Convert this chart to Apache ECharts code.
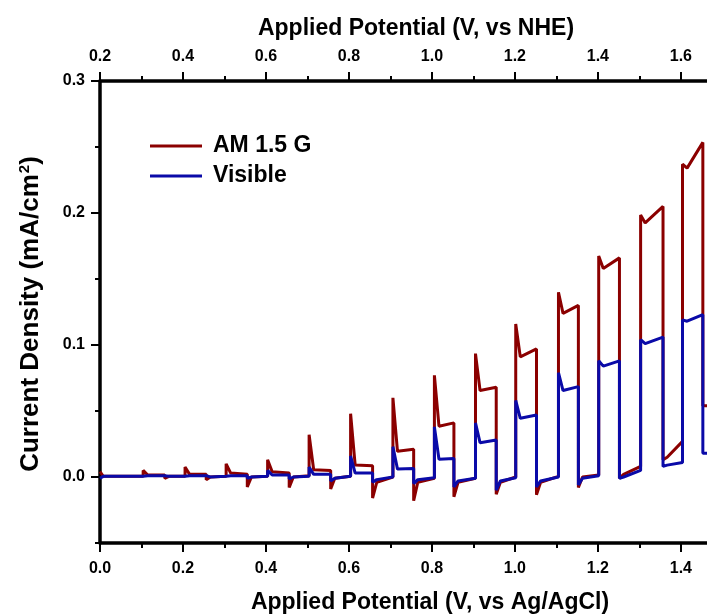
<!DOCTYPE html>
<html>
<head>
<meta charset="utf-8">
<script src="https://cdn.jsdelivr.net/npm/echarts@6/dist/echarts.min.js"></script>
<style>
  html, body { margin: 0; padding: 0; background: #fff; }
  #chart { width: 707px; height: 614px; }
</style>
</head>
<body>
<div id="chart"></div>
<script>
// Chopped-light linear sweep: light switched on at each onset potential
// and off again at the matching off potential (V vs Ag/AgCl).
const onsetV = [0.104, 0.205, 0.304, 0.404, 0.504, 0.604, 0.706, 0.806, 0.905, 1.002, 1.105, 1.202, 1.303, 1.404];
const offV   = [0.156, 0.256, 0.355, 0.456, 0.556, 0.657, 0.756, 0.853, 0.955, 1.052, 1.153, 1.252, 1.357, 1.453];
const sweepEnd = 1.463;

// AM 1.5 G illumination (mA/cm2)
const amStart      = 0.004;
const amDarkBefore = [0.0005, 0.0005, 0.0005, 0.0005, 0.001, 0.0005, 0.0, -0.001, -0.001, 0.0, 0.0005, 0.0015, 0.008, 0.027];
const amSpike      = [0.005, 0.0075, 0.010, 0.013, 0.032, 0.048, 0.060, 0.077, 0.0935, 0.116, 0.140, 0.1675, 0.1985, 0.237];
const amDip        = [0.0015, 0.002, 0.003, 0.004, 0.0055, 0.009, 0.0195, 0.0385, 0.0655, 0.091, 0.124, 0.158, 0.1925, 0.234];
const amEnd        = [0.0015, 0.002, 0.002, 0.003, 0.005, 0.0085, 0.021, 0.041, 0.068, 0.097, 0.130, 0.166, 0.205, 0.2535];
const amOffDip     = [-0.001, -0.002, -0.0075, -0.008, -0.009, -0.016, -0.018, -0.015, -0.013, -0.0135, -0.008, -0.001, 0.013, 0.054];
const amDarkAfter  = [0.0005, 0.0, 0.0, 0.0, -0.001, -0.004, -0.004, -0.004, -0.004, -0.004, 0.0, 0.002, 0.015];

// Visible-light illumination (mA/cm2)
const visStart      = -0.001;
const visDarkBefore = [0.0005, 0.0005, 0.0005, 0.0005, 0.0005, 0.0005, 0.0, -0.0005, -0.001, -0.0005, 0.0, 0.001, 0.005, 0.011];
const visSpike      = [0.0015, 0.002, 0.002, 0.005, 0.0075, 0.016, 0.023, 0.038, 0.041, 0.058, 0.079, 0.088, 0.104, 0.119];
const visDip        = [0.001, 0.001, 0.001, 0.0015, 0.002, 0.003, 0.006, 0.0135, 0.026, 0.0445, 0.0655, 0.084, 0.101, 0.118];
const visEnd        = [0.001, 0.001, 0.001, 0.0015, 0.002, 0.003, 0.0065, 0.014, 0.028, 0.047, 0.0685, 0.088, 0.106, 0.123];
const visOffDip     = [0.0, -0.0005, -0.001, -0.0015, -0.003, -0.004, -0.005, -0.0075, -0.010, -0.0075, -0.006, -0.001, 0.008, 0.018];
const visDarkAfter  = [0.0005, 0.0, 0.0, 0.0, -0.001, -0.002, -0.002, -0.003, -0.003, -0.003, -0.001, 0.0, 0.009];

// Axis tick values
const xMajor   = [0, 0.2, 0.4, 0.6, 0.8, 1.0, 1.2, 1.4];
const xMinor   = [0.1, 0.3, 0.5, 0.7, 0.9, 1.1, 1.3];
const nheMajor = [0.2, 0.4, 0.6, 0.8, 1.0, 1.2, 1.4, 1.6];
const nheMinor = [0.3, 0.5, 0.7, 0.9, 1.1, 1.3, 1.5];
const yMajor   = [0, 0.1, 0.2, 0.3];
const yMinor   = [-0.05, 0.05, 0.15, 0.25];
const nheOffset = 0.2;

// Turn the per-cycle readings into one polyline: dark level, on-spike,
// decay to the photocurrent plateau, plateau end, off transient, recovery.
function buildTrace(start, darkBefore, spike, dip, end, offDip, darkAfter) {
  const pts = [[0, start], [0.008, darkBefore[0]]];
  const n = onsetV.length;
  for (let i = 0; i < n; i++) {
    pts.push([onsetV[i], darkBefore[i]]);
    pts.push([onsetV[i], spike[i]]);
    pts.push([onsetV[i] + 0.011, dip[i]]);
    pts.push([offV[i], end[i]]);
    pts.push([offV[i], offDip[i]]);
    if (i < n - 1) {
      pts.push([offV[i] + 0.01, darkAfter[i]]);
    } else {
      pts.push([sweepEnd, offDip[i]]);
    }
  }
  return pts;
}

const amData  = buildTrace(amStart, amDarkBefore, amSpike, amDip, amEnd, amOffDip, amDarkAfter);
const visData = buildTrace(visStart, visDarkBefore, visSpike, visDip, visEnd, visOffDip, visDarkAfter);

const FONT = "'Liberation Sans', Arial, Helvetica, sans-serif";
const black = '#000';

function labelStyle(values, margin) {
  return {
    show: true, customValues: values, color: black, fontFamily: FONT,
    fontSize: 16, fontWeight: 'bold', margin: margin,
    formatter: v => Number(v).toFixed(1)
  };
}
function tickStyle(values, len) {
  return { show: true, customValues: values, inside: false, length: len,
           lineStyle: { color: black, width: 2 } };
}

const titleStyle = { color: black, fontFamily: FONT, fontSize: 23, fontWeight: 'bold' };

const option = {
  animation: false,
  backgroundColor: '#fff',
  grid: { left: 100, top: 81, right: 0, bottom: 71, containLabel: false, outerBoundsMode: 'none' },
  legend: {
    orient: 'vertical', left: 145, top: 129,
    icon: 'rect', itemWidth: 52, itemHeight: 3, itemGap: 6,
    textStyle: { color: black, fontFamily: FONT, fontSize: 23, fontWeight: 'bold',
                 lineHeight: 24, padding: [0, 0, 0, 6] },
    data: ['AM 1.5 G', 'Visible']
  },
  xAxis: [
    {
      type: 'value', position: 'bottom', min: 0, max: sweepEnd,
      axisLine: { show: true, onZero: false, lineStyle: { color: black, width: 3.5 } },
      axisTick: tickStyle(xMajor, 9),
      axisLabel: labelStyle(xMajor, 18),
      splitLine: { show: false },
      name: 'Applied Potential (V, vs Ag/AgCl)', nameLocation: 'middle', nameGap: 48,
      nameTextStyle: Object.assign({ padding: [0, 0, 0, 53] }, titleStyle)
    },
    {
      type: 'value', position: 'bottom', min: 0, max: sweepEnd,
      axisLine: { show: false, onZero: false },
      axisTick: tickStyle(xMinor, 5),
      axisLabel: { show: false },
      splitLine: { show: false }
    },
    {
      type: 'value', position: 'top', min: nheOffset, max: sweepEnd + nheOffset,
      axisLine: { show: true, onZero: false, lineStyle: { color: black, width: 3.5 } },
      axisTick: tickStyle(nheMajor, 9),
      axisLabel: labelStyle(nheMajor, 16),
      splitLine: { show: false },
      name: 'Applied Potential (V, vs NHE)', nameLocation: 'middle', nameGap: 41,
      nameTextStyle: Object.assign({ padding: [0, 0, 0, 25] }, titleStyle)
    },
    {
      type: 'value', position: 'top', min: nheOffset, max: sweepEnd + nheOffset,
      axisLine: { show: false, onZero: false },
      axisTick: tickStyle(nheMinor, 5),
      axisLabel: { show: false },
      splitLine: { show: false }
    }
  ],
  yAxis: [
    {
      type: 'value', position: 'left', min: -0.05, max: 0.3,
      axisLine: { show: true, onZero: false, lineStyle: { color: black, width: 3.5 } },
      axisTick: tickStyle(yMajor, 9),
      axisLabel: labelStyle(yMajor, 15),
      splitLine: { show: false },
      name: 'Current Density (mA/cm{sup|2})', nameLocation: 'middle', nameGap: 55,
      nameTextStyle: Object.assign({}, titleStyle, {
        fontSize: 26,
        padding: [0, 4, 0, 0],
        rich: { sup: { fontFamily: FONT, fontSize: 15, fontWeight: 'bold', color: black,
                       padding: [0, 0, 13, 1] } }
      })
    },
    {
      type: 'value', position: 'left', min: -0.05, max: 0.3,
      axisLine: { show: false, onZero: false },
      axisTick: tickStyle(yMinor, 5),
      axisLabel: { show: false },
      splitLine: { show: false }
    }
  ],
  series: [
    {
      name: 'AM 1.5 G', type: 'line', data: amData,
      xAxisIndex: 0, yAxisIndex: 0,
      symbol: 'none', smooth: false, clip: true,
      lineStyle: { color: '#8b0000', width: 3 },
      itemStyle: { color: '#8b0000' }
    },
    {
      name: 'Visible', type: 'line', data: visData,
      xAxisIndex: 0, yAxisIndex: 0,
      symbol: 'none', smooth: false, clip: true,
      lineStyle: { color: '#0a0aa8', width: 3 },
      itemStyle: { color: '#0a0aa8' }
    }
  ]
};

const chart = echarts.init(document.getElementById('chart'), null, { renderer: 'canvas' });
chart.setOption(option);
</script>
</body>
</html>
